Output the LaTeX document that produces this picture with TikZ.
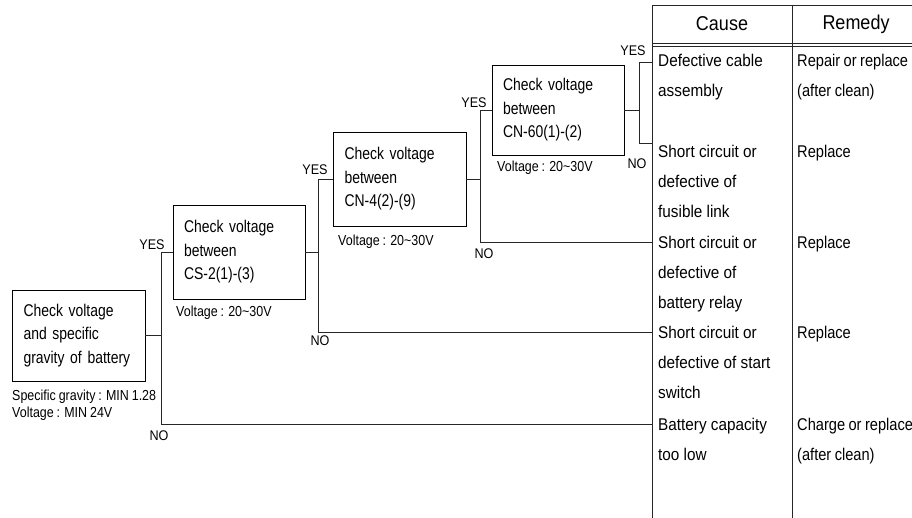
\documentclass[tikz,border=0pt]{standalone}
\usepackage{fontspec}
\setmainfont{Liberation Sans}
\newfontfamily\boxfont[FakeStretch=0.82,WordSpace=0.8]{Liberation Sans}
\newfontfamily\tabfont[FakeStretch=0.9,WordSpace=0.9]{Liberation Sans}
\newfontfamily\remfont[FakeStretch=0.86,WordSpace=0.9]{Liberation Sans}
\newfontfamily\notefont[FakeStretch=0.86,WordSpace=0.85]{Liberation Sans}
\newfontfamily\lblfont[FakeStretch=0.9]{Liberation Sans}
\begin{document}
\begin{tikzpicture}[x=1pt,y=-1pt,
  line/.style={draw=black!85, line width=0.8pt},
  checkbox/.style={draw=black, line width=0.9pt, inner xsep=11pt, inner ysep=0pt,
    text width=110pt, align=left, font=\boxfont\fontsize{17}{23.5}\selectfont},
  note/.style={inner sep=0pt, anchor=north west, align=left,
    font=\notefont\fontsize{14.5}{17}\selectfont},
  yn/.style={inner sep=0pt, font=\lblfont\fontsize{14}{14}\selectfont},
  cell/.style={inner sep=0pt, anchor=north west, align=left,
    font=\tabfont\fontsize{17}{30}\selectfont},
  remcell/.style={cell, font=\remfont\fontsize{17}{30}\selectfont},
  head/.style={inner sep=0pt, font=\tabfont\fontsize{20}{20}\selectfont},
]
\fill[white] (0,0) rectangle (912,518);
\useasboundingbox (0,0) rectangle (912,518);

% check boxes
\node[checkbox, minimum width=133pt, minimum height=91pt] (b1) at (78.5,335.5)
  {Check voltage\\and specific\\gravity of battery};
\node[checkbox, minimum width=132pt, minimum height=94pt] (b2) at (239,252)
  {Check voltage\\between\\CS-2(1)-(3)};
\node[checkbox, minimum width=133pt, minimum height=94pt] (b3) at (399.5,179)
  {Check voltage\\between\\CN-4(2)-(9)};
\node[checkbox, minimum width=132pt, minimum height=90pt] (b4) at (558,110)
  {Check voltage\\between\\CN-60(1)-(2)};

% notes
\node[note] (nb1) at (12,389.7) {Specific gravity : MIN 1.28\\Voltage : MIN 24V};
\node[note] (nb2) at (176,305.7) {Voltage : 20\textasciitilde30V};
\node[note] (nb3) at (338,234.7) {Voltage : 20\textasciitilde30V};
\node[note] (nb4) at (497,160.7) {Voltage : 20\textasciitilde30V};

% table frame
\draw[line] (652,5) -- (912,5);
\draw[line] (652,5) -- (652,518);
\draw[line] (792,5) -- (792,518);
\draw[line] (652,43) -- (912,43);
\draw[line] (652,46) -- (912,46);
\node[head] (hcause) at (722,24) {Cause};
\node[head] (hrem) at (856,24) {Remedy};

% connection points on the table
\coordinate (t1) at (652,62);
\coordinate (t2) at (652,143);
\coordinate (t3) at (652,242);
\coordinate (t4) at (652,332);
\coordinate (t5) at (652,424);

% causes
\node[cell] (c1) at (658,53.7) {Defective cable\\assembly};
\node[cell] (c2) at (658,144.7) {Short circuit or\\defective of\\fusible link};
\node[cell] (c3) at (658,235.7) {Short circuit or\\defective of\\battery relay};
\node[cell] (c4) at (658,325.7) {Short circuit or\\defective of start\\switch};
\node[cell] (c5) at (658,417.7) {Battery capacity\\too low};

% remedies
\node[remcell] (r1) at (797,53.7) {Repair or replace\\(after clean)};
\node[remcell] (r2) at (797,144.7) {Replace};
\node[remcell] (r3) at (797,235.7) {Replace};
\node[remcell] (r4) at (797,325.7) {Replace};
\node[remcell] (r5) at (797,417.7) {Charge or replace\\(after clean)};

% junction columns
\coordinate (k1) at (161,0);
\coordinate (k2) at (318,0);
\coordinate (k3) at (480,0);
\coordinate (k4) at (639,0);

% connectors
\draw[line] (b1.east) -- (b1.east -| k1);
\draw[line] (b2.west) -| (k1 |- t5) -- (t5);
\draw[line] (b2.east) -- (b2.east -| k2);
\draw[line] (b3.west) -| (k2 |- t4) -- (t4);
\draw[line] (b3.east) -- (b3.east -| k3);
\draw[line] (b4.west) -| (k3 |- t3) -- (t3);
\draw[line] (b4.east) -- (b4.east -| k4);
\draw[line] (t1) -| (k4 |- t2) -- (t2);

% YES / NO labels
\node[yn] (y1) at (152,245) {YES};
\node[yn] (n1) at (159,436) {NO};
\node[yn] (y2) at (315,170) {YES};
\node[yn] (n2) at (320,341) {NO};
\node[yn] (y3) at (474,103) {YES};
\node[yn] (n3) at (484,254) {NO};
\node[yn] (y4) at (633,51) {YES};
\node[yn] (n4) at (637,164) {NO};
\end{tikzpicture}
\end{document}
